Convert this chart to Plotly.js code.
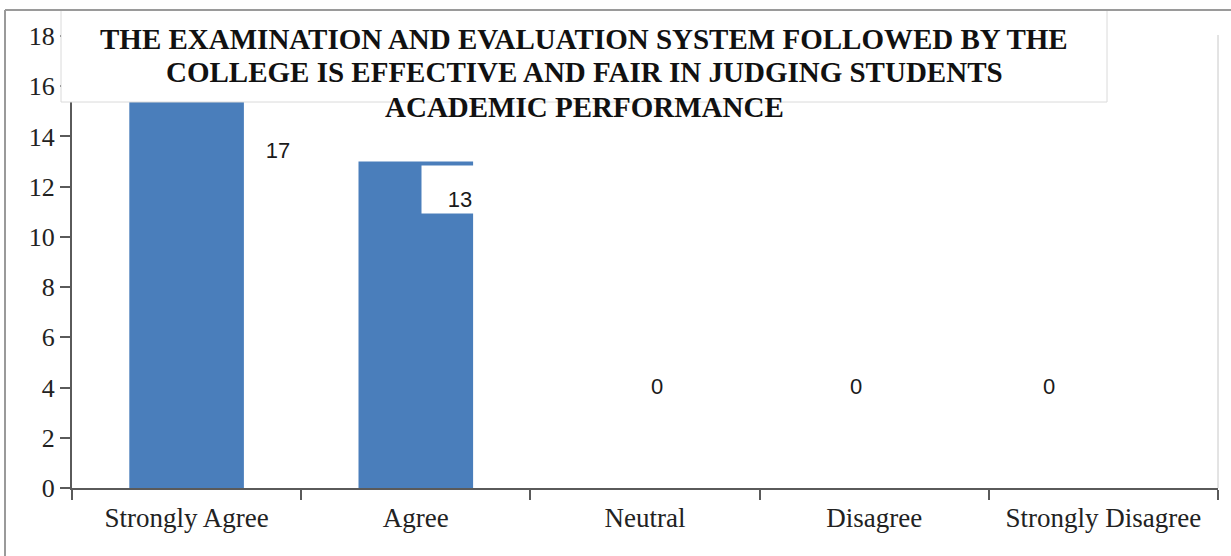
<!DOCTYPE html>
<html>
<head>
<meta charset="utf-8">
<script src="https://cdn.plot.ly/plotly-3.0.1.min.js"></script>
<style>
html,body{margin:0;padding:0;background:#fff;}
#chart{width:1231px;height:556px;}
</style>
</head>
<body>
<div id="chart"></div>
<script>
// ---- data ----
const categories = ["Strongly Agree", "Agree", "Neutral", "Disagree", "Strongly Disagree"];
const counts = [17, 13, 0, 0, 0];
const yTickValues = [0, 2, 4, 6, 8, 10, 12, 14, 16, 18];
const titleLines = [
  "THE EXAMINATION AND EVALUATION SYSTEM FOLLOWED BY THE",
  "COLLEGE IS EFFECTIVE AND FAIR IN JUDGING STUDENTS",
  "ACADEMIC PERFORMANCE"
];

// ---- label placement (style, not data) ----
const labelPlacement = [
  {xshift: 91, y: 13.84, box: true, w: 64},
  {xshift: 44, y: 11.89, box: true, w: 74},
  {xshift: 12, y: 4.46, box: false, w: 74},
  {xshift: -18, y: 4.46, box: false, w: 74},
  {xshift: -54, y: 4.46, box: false, w: 74}
];
const titleLineY = [39, 72, 107];

const W = 1231, H = 556;
const L = 72, R = 13, T = 36, B = 68;
const pw = W - L - R, ph = H - T - B;
const px = X => (X - L) / pw;
const py = Y => (H - B - Y) / ph;

const trace = {
  type: "bar",
  x: categories,
  y: counts,
  marker: {color: "#4A7EBB", line: {width: 0}},
  hoverinfo: "skip"
};

const annotations = categories.map((c, i) => ({
  x: c, xref: "x",
  y: labelPlacement[i].y, yref: "y",
  xshift: labelPlacement[i].xshift,
  text: String(counts[i]),
  showarrow: false,
  font: {family: "Liberation Sans, Arial, sans-serif", size: 22, color: "#1a1a1a"},
  bgcolor: labelPlacement[i].box ? "#ffffff" : "rgba(0,0,0,0)",
  width: labelPlacement[i].w, height: 45,
  valign: "bottom",
  xanchor: "center", yanchor: "middle"
}));

titleLines.forEach((t, i) => {
  annotations.push({
    xref: "paper", yref: "paper",
    x: px(584), y: py(titleLineY[i]),
    xanchor: "center", yanchor: "middle",
    text: "<b>" + t + "</b>",
    showarrow: false,
    font: {family: "Liberation Serif, Times New Roman, serif", size: 29, color: "#111"},
    align: "center"
  });
});

const layout = {
  width: W, height: H,
  margin: {l: L, r: R, t: T, b: B, pad: 0},
  paper_bgcolor: "#ffffff",
  plot_bgcolor: "#ffffff",
  showlegend: false,
  bargap: 0.5,
  xaxis: {
    type: "category",
    showgrid: false,
    zeroline: false,
    showline: true, linecolor: "#5a5a5a", linewidth: 2,
    ticks: "outside", ticklen: 10, tickwidth: 2, tickcolor: "#5a5a5a",
    tickson: "boundaries",
    ticklabelstandoff: 5,
    tickfont: {family: "Liberation Serif, Times New Roman, serif", size: 27, color: "#222"}
  },
  yaxis: {
    range: [0, 18],
    tickvals: yTickValues,
    ticktext: yTickValues.map(String),
    showgrid: false,
    zeroline: false,
    showline: true, linecolor: "#5a5a5a", linewidth: 2,
    ticks: "outside", ticklen: 10, tickwidth: 2, tickcolor: "#5a5a5a",
    tickfont: {family: "Liberation Serif, Times New Roman, serif", size: 26, color: "#222"}
  },
  annotations: annotations,
  shapes: [
    // title box (covers the top of the chart)
    {type: "rect", xref: "paper", yref: "paper", layer: "above",
     x0: px(61), x1: px(1107), y0: py(102), y1: py(10),
     fillcolor: "#ffffff", line: {color: "#dadada", width: 1}},
    // outer frame: top, left, right
    {type: "line", xref: "paper", yref: "paper", layer: "above",
     x0: px(5), x1: px(1231), y0: py(10), y1: py(10),
     line: {color: "#9a9a9a", width: 2}},
    {type: "line", xref: "paper", yref: "paper", layer: "above",
     x0: px(5), x1: px(5), y0: py(10), y1: py(556),
     line: {color: "#9a9a9a", width: 2}},
    {type: "line", xref: "paper", yref: "paper", layer: "above",
     x0: px(1218), x1: px(1218), y0: py(35), y1: py(488),
     line: {color: "#c8c8c8", width: 1}}
  ]
};

Plotly.newPlot("chart", [trace], layout, {displayModeBar: false, staticPlot: true});
</script>
</body>
</html>
